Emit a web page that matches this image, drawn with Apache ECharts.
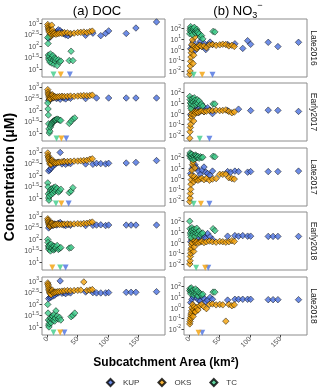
<!DOCTYPE html>
<html>
<head>
<meta charset="utf-8">
<title>DOC and NO3 vs subcatchment area</title>
<script src="https://cdn.jsdelivr.net/npm/echarts@6/dist/echarts.min.js"></script>
<style>
  html, body { margin: 0; padding: 0; background: #fff; }
  #chart { width: 320px; height: 389px; }
</style>
</head>
<body>
<div id="chart"></div>
<script>
// facet rows and the three river networks
var seasons = ['Late2016', 'Early2017', 'Late2017', 'Early2018', 'Late2018'];
var sites = ['KUP', 'OKS', 'TC'];

// tick labels
var xTicks = [0, 50, 100, 150];
var docTicks = [10, 31.62, 100, 316.2, 1000];
var no3Ticks = [0.01, 0.1, 1, 10, 100];

// subcatchment area (km2) of each sampling point
var kupArea = [2, 4, 6, 9, 12, 15, 18, 21, 24, 27, 30, 34, 38, 63, 68, 75, 81, 88, 96, 101, 130, 138, 146, 180];
var oksArea = [0.5, 1, 1.5, 2, 2.5, 3, 3.5, 4, 5, 6, 7, 8, 9, 10, 12, 14, 17, 20, 24, 28, 33, 38, 44, 50, 55, 60, 65, 70, 74];
var tcArea = [0.5, 1, 1.5, 2, 2.5, 3, 4, 5, 6, 7, 8, 9, 10, 11, 12, 13, 14, 16, 18, 20, 22, 36, 39, 42, 45];

// DOC (uM), one row per season, aligned with the area arrays
var kupDoc = [
  [210, 250, 290, 330, 370, 420, 500, 460, 390, 340, 300, 280, 320, 290, null, 360, null, 280, 350, 450, 350, null, 600, 1100],
  [260, 280, 300, 330, 360, 310, 340, 290, 370, 330, 300, 350, 320, 310, null, null, 330, null, null, 330, 330, null, 330, 330],
  [150, 170, 200, 240, 280, 330, 360, 950, 300, 380, 290, 330, 310, 300, null, 290, 320, 310, 300, 320, 330, null, 350, 420],
  [300, 350, 420, 380, 450, 400, 480, 520, 440, 400, 380, 420, 390, 380, null, 390, 400, 410, 380, 400, 400, 400, 400, 400],
  [170, 190, 200, 220, 240, 280, 300, 1000, 290, 310, 280, 320, 300, 330, null, 310, 300, 300, 300, 310, 320, 320, 320, 340]
];
var oksDoc = [
  [850, 700, 600, 520, 480, 430, 380, 300, 260, 350, 800, 500, 380, 330, 360, 320, 340, 360, 350, 380, 370, 350, 360, 380, 390, 400, 380, 420, 440],
  [760, 600, 500, 450, 400, 350, 300, 280, 320, 380, 420, 460, 400, 350, 380, 360, 370, 380, 390, 380, 390, 400, 390, 400, 410, 420, 410, 420, 440],
  [900, 700, 600, 550, 480, 420, 380, 320, 280, 300, 400, 450, 380, 350, 330, 340, 350, 360, 370, 380, 380, 390, 400, 400, 410, 420, 430, 480, 500],
  [750, 650, 550, 500, 450, 420, 380, 350, 400, 450, 500, 480, 420, 400, 420, 430, 440, 420, 430, 440, 450, 440, 450, 460, 450, 470, 480, 520, 540],
  [820, 700, 600, 500, 420, 380, 330, 300, 280, 250, 350, 400, 330, 300, 320, 330, 340, 350, 360, 370, 380, 370, 380, 390, 400, 900, 380, 400, 420]
];
var tcDoc = [
  [230, 126, 40, 30, 25, 35, 20, 45, 28, 18, 32, 38, 24, 16, 30, 22, 27, 14, 25, 20, 22, 23, 59, 23, null],
  [200, 110, 60, 25, 15, 10, 12, 18, 22, 25, 28, 30, 32, 35, 35, 36, 38, 40, 38, 36, 35, 26, 32, 40, 45],
  [45, 30, 15, 10, 8, 12, 18, 22, 14, 25, 20, 16, 28, 24, 19, 30, 22, 26, 18, 20, 24, 17, 20, 28, null],
  [95, 70, 50, 40, 35, 45, 55, 30, 60, 38, 42, 50, 33, 48, 36, 40, 44, 52, 35, 38, 42, 40, 42, null, null],
  [95, 40, 20, 12, 10, 14, 18, 25, 15, 22, 30, 28, 20, 35, 18, 24, 50, 30, 22, 26, 20, null, 28, 32, 40]
];

// NO3- (uM)
var kupNo3 = [
  [1.2, 2.5, 5, 0.8, 1.5, 3, 6, 2, 4, 1, 2.5, 5, 3, 3, null, 3.5, null, 1.3, 6.8, 3.1, 4.8, null, 1.9, 4.8],
  [0.8, 3, 8, 5, 2, 1.2, 4, 6, 1.5, 2.5, 3.5, 2, 1, 1.9, null, null, 2.6, null, null, 1.9, 2.1, null, 2, 1.6],
  [3, 8, 15, 20, 10, 5, 2.5, 6, 12, 4, 3, 2, 5, 4.5, 4, 5, 4.5, null, 4, 4.5, 4.5, null, 4.5, 5],
  [1.2, 2, 5, 8, 10, 3, 1.5, 6, 4, 2.5, 7, 3.5, 2, 4, null, 4.5, 4, 4.5, 4, 4, 3.8, 3.8, 3.8, 3.8],
  [3, 6, 10, 15, 8, 5, 4, 12, 7, 3.5, 5, 9, 6, 5, null, 6, 6, 6, 6, 6, 5.5, 5.5, 5.5, 5.5]
];
var oksNo3 = [
  [0.005, 0.01, 0.03, 0.08, 0.2, 0.5, 1, 3, 8, 0.05, 0.3, 2, 15, 1.5, 1.2, 1.8, 2.5, 2, 2.2, 1.5, 2.8, 3, 2.5, 2.8, 3.2, 3, 2.2, 2.5, 2],
  [0.005, 0.02, 0.05, 0.1, 0.3, 0.6, 1, 2, 5, 10, 0.2, 0.8, 1.5, 1.2, 1.5, 1.3, 1.6, 1.8, 1.5, 1.7, 2, 1.8, 2.1, 1.9, 2, 2.2, 1.6, 1.2, 1.4],
  [0.007, 0.015, 0.04, 0.1, 0.3, 0.8, 2, 6, 20, 35, 0.5, 1.5, 10, 0.8, 1, 0.7, 0.9, 1.1, 0.8, 1, 0.7, 0.9, 1, 2.5, 2.5, 2.6, 1.2, 1, 0.9],
  [0.01, 0.02, 0.05, 0.1, 0.2, 0.3, 0.6, 1, 2, 4, 0.15, 0.4, 1.5, 1, 1.2, 0.9, 1.1, 1.3, 1, 1.2, 1.4, 1.2, 1.1, 1.3, 1.2, 1.1, 1.2, 1.5, 1.3],
  [0.03, 0.05, 0.08, 0.12, 0.2, 0.3, 0.5, 1, 2, 0.15, 0.6, 1.2, 0.4, 0.4, 1, 0.6, 1.5, 2, 1.2, 0.8, 2, 2.2, 1.8, 2, 1.8, 0.054, 2, 1.5, 1.8]
];
var tcNo3 = [
  [30, 60, 100, 140, 80, 50, 40, 25, 70, 90, 120, 45, 35, 60, 80, 50, 40, 30, 15, 20, 10, null, 50, 45, null],
  [40, 20, 10, 5, 3, 8, 15, 25, 12, 6, 30, 18, 10, 7, 12, 20, 9, 15, 6, 8, 5, null, 8, 8, null],
  [150, 250, 120, 80, 200, 100, 180, 90, 60, 140, 110, 70, 160, 130, 90, 100, 120, 80, 110, 90, 100, null, 120, 110, null],
  [100, 20, 8, 5, 3, 12, 25, 15, 6, 10, 18, 4, 8, 14, 22, 9, 6, 12, 5, 7, 8, null, 20, 13, null],
  [40, 60, 30, 20, 50, 70, 35, 25, 45, 15, 30, 22, 55, 18, 28, 40, 12, 25, 20, 15, 18, null, 28, 28, null]
];

// median subcatchment area per season (triangles)
var kupMedDoc = [37, 31, 35, 30, 28];
var oksMedDoc = [22, 23, 23, 8, 21];
var tcMedDoc = [10, 15, 14, 21, 10];
var kupMedNo3 = [38, 33, 33, 31, 21];
var oksMedNo3 = [21, null, 19, 26, 15];
var tcMedNo3 = [7, 17, 7, 11, null];

var colors = { KUP: '#4a70e0', OKS: '#f2a007', TC: '#3dcc8a' };
var areaOf = { KUP: kupArea, OKS: oksArea, TC: tcArea };
var docOf = { KUP: kupDoc, OKS: oksDoc, TC: tcDoc };
var no3Of = { KUP: kupNo3, OKS: oksNo3, TC: tcNo3 };
var medDocOf = { KUP: kupMedDoc, OKS: oksMedDoc, TC: tcMedDoc };
var medNo3Of = { KUP: kupMedNo3, OKS: oksMedNo3, TC: tcMedNo3 };

var FONT = '"Liberation Sans", Arial, sans-serif';
var rowTop = [19, 83, 148, 212, 277];
var panelH = 58;

function pairs(xs, ys) {
  var out = [];
  for (var i = 0; i < xs.length; i++) {
    if (ys[i] != null) out.push([xs[i], ys[i]]);
  }
  return out;
}

// 10^x labels, x in half decades
function powLabel(v) {
  var e = Math.round(Math.log10(v) * 2) / 2;
  return '{b|10}{s|' + e + '}';
}

var grids = [], xAxes = [], yAxes = [], series = [], graphics = [];

seasons.forEach(function (season, r) {
  [0, 1].forEach(function (c) {
    var idx = grids.length;
    var isBottom = r === seasons.length - 1;
    grids.push({
      left: c ? 184 : 42, top: rowTop[r], width: 123, height: panelH,
      show: true, borderColor: '#8c8c8c', borderWidth: 1, backgroundColor: '#fff'
    });
    xAxes.push({
      gridIndex: idx, type: 'value', min: -9, max: 194,
      splitLine: { show: false }, axisLine: { show: false, onZero: false },
      axisTick: { show: isBottom, length: 2.5, customValues: xTicks, lineStyle: { color: '#444' } },
      axisLabel: {
        show: isBottom, customValues: xTicks, rotate: 45, margin: 3,
        fontSize: 7, color: '#4d4d4d', fontFamily: FONT
      }
    });
    yAxes.push({
      gridIndex: idx, type: 'log', logBase: 10,
      min: c ? 0.00275 : 4.47, max: c ? 724 : 1479,
      splitLine: { show: false }, axisLine: { show: false, onZero: false },
      axisTick: { show: true, length: 2.5, customValues: c ? no3Ticks : docTicks, lineStyle: { color: '#444' } },
      axisLabel: {
        customValues: c ? no3Ticks : docTicks, margin: 3, formatter: powLabel,
        color: '#4d4d4d', fontFamily: FONT,
        rich: {
          b: { fontSize: 7, color: '#4d4d4d', fontFamily: FONT, verticalAlign: 'bottom' },
          s: { fontSize: 5, color: '#4d4d4d', fontFamily: FONT, verticalAlign: 'bottom', padding: [0, 0, 4, 0] }
        }
      }
    });

    sites.forEach(function (site) {
      var vals = c ? no3Of[site][r] : docOf[site][r];
      series.push({
        name: site, type: 'scatter', xAxisIndex: idx, yAxisIndex: idx,
        symbol: 'diamond', symbolSize: 6.5,
        itemStyle: { color: colors[site], borderColor: '#000', borderWidth: 0.6 },
        data: pairs(areaOf[site], vals)
      });
    });

    var tri = [];
    sites.forEach(function (site) {
      var m = c ? medNo3Of[site][r] : medDocOf[site][r];
      if (m != null) {
        tri.push({ value: [m, c ? 0.0044 : 5.75], itemStyle: { color: colors[site] } });
      }
    });
    series.push({
      name: 'median', type: 'scatter', xAxisIndex: idx, yAxisIndex: idx,
      symbol: 'triangle', symbolRotate: 180, symbolSize: 6, data: tri
    });
  });

  graphics.push({
    type: 'text', x: 313, y: rowTop[r] + panelH / 2, rotation: -Math.PI / 2,
    style: { text: season, fontSize: 8.5, fill: '#1a1a1a', fontFamily: FONT, align: 'center', verticalAlign: 'middle' }
  });
});

graphics.push({
  type: 'text', x: 97, y: 11,
  style: { text: '(a) DOC', fontSize: 13, fill: '#000', fontFamily: FONT, align: 'center', verticalAlign: 'middle' }
});
graphics.push({
  type: 'text', x: 238, y: 11,
  style: {
    text: '{t|(b) NO}{sub|3}{sup|−}', align: 'center', verticalAlign: 'middle',
    rich: {
      t: { fontSize: 13, fill: '#000', fontFamily: FONT, verticalAlign: 'bottom', padding: [0, 0, 3, 0] },
      sub: { fontSize: 9, fill: '#000', fontFamily: FONT, verticalAlign: 'bottom' },
      sup: { fontSize: 9, fill: '#000', fontFamily: FONT, verticalAlign: 'bottom', padding: [0, 0, 10, 0] }
    }
  }
});
graphics.push({
  type: 'text', x: 10, y: 177, rotation: Math.PI / 2,
  style: { text: 'Concentration (μM)', fontSize: 14, fontWeight: 'bold', fill: '#000', fontFamily: FONT, align: 'center', verticalAlign: 'middle' }
});
graphics.push({
  type: 'text', x: 166, y: 363,
  style: { text: 'Subcatchment Area (km²)', fontSize: 12, fontWeight: 'bold', fill: '#000', fontFamily: FONT, align: 'center', verticalAlign: 'middle' }
});

var chart = echarts.init(document.getElementById('chart'), null, { renderer: 'canvas' });
chart.setOption({
  animation: false,
  backgroundColor: '#fff',
  grid: grids,
  xAxis: xAxes,
  yAxis: yAxes,
  series: series,
  graphic: graphics,
  legend: {
    data: sites, top: 378, left: 106, padding: 0, orient: 'horizontal',
    icon: 'diamond', itemWidth: 7, itemHeight: 7, itemGap: 18,
    textStyle: { fontSize: 8, color: '#333', fontFamily: FONT, padding: [0, 0, 0, 4] }
  }
});
</script>
</body>
</html>
